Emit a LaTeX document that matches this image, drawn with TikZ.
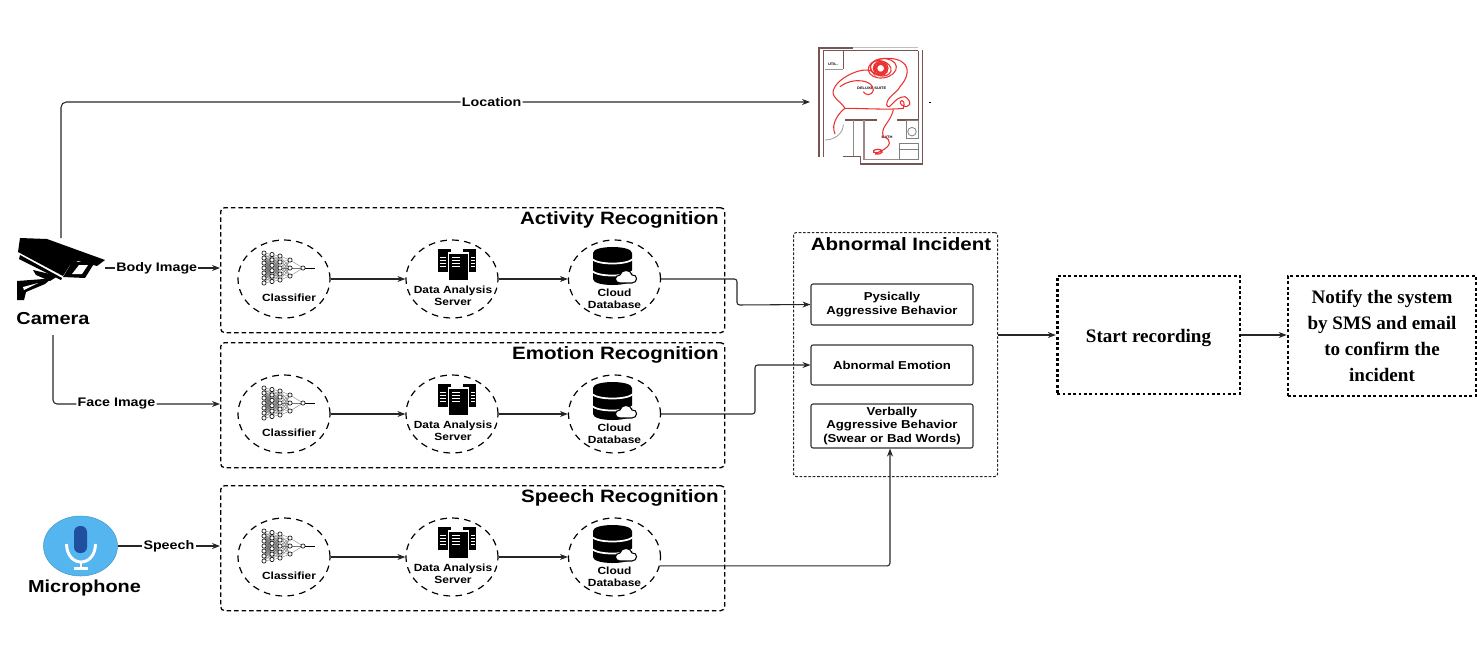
\documentclass[tikz,border=0pt]{standalone}
\usepackage{fontspec}
\setmainfont[FakeStretch=1.15]{Liberation Sans}
\newfontfamily\serifbold{Liberation Serif}
\usetikzlibrary{arrows.meta, positioning, shapes.geometric, calc}
\definecolor{wallcolor}{RGB}{120,85,85}
\definecolor{micblue}{RGB}{85,181,239}
\definecolor{micdark}{RGB}{31,79,159}
\definecolor{scribble}{RGB}{235,50,50}

\tikzset{
  flow/.style={draw=black!85, line width=.8pt, -{Stealth[length=6pt,width=4.5pt]}},
  flowlabel/.style={font=\fontsize{9.3}{10}\selectfont\bfseries, fill=white, inner sep=1pt},
  devlabel/.style={font=\fontsize{13}{15}\selectfont\bfseries, inner sep=0pt},
  recogframe/.style={draw, line width=1pt, dash pattern=on 3.4pt off 2.2pt, rounded corners=3pt, minimum width=378pt, minimum height=93.75pt, anchor=north west, inner sep=0pt},
  recogcircle/.style={draw, ellipse, line width=.9pt, dash pattern=on 5pt off 4pt, minimum width=69pt, minimum height=58.5pt, inner sep=0pt},
  recogtitle/.style={font=\fontsize{13.4}{15}\selectfont\bfseries, anchor=east, inner sep=0pt},
  circletext/.style={font=\fontsize{7.8}{9}\selectfont\bfseries, align=center, inner sep=0pt},
  incidentbox/.style={draw=black!80, line width=.8pt, rounded corners=1.5pt, minimum width=121.5pt, align=center, inner sep=0pt, font=\fontsize{8.6}{10}\selectfont\bfseries},
  actionbox/.style={draw, line width=2pt, dash pattern=on 2.2pt off 1.8pt, align=center, inner sep=0pt, font=\serifbold\fontsize{14.3}{19.5}\selectfont\bfseries},
  pics/recogrow/.style={code={
    \node[recogframe] (-frame) at (0,0) {};
    \node[recogtitle] (-title) at (499,13) {#1};
    \node[recogcircle] (-cls) at (64,72) {};
    \node[recogcircle] (-srv) at (232,72) {};
    \node[recogcircle] (-cld) at (394.5,72) {};
    \node[circletext] (-clstext) at (69,91) {Classifier};
    \node[circletext] (-srvtext) at (233,89) {Data Analysis\\Server};
    \node[circletext] (-cldtext) at (394.5,92) {Cloud\\Database};
    \draw[flow] (-cls) -- (-srv);
    \draw[flow] (-srv) -- (-cld);
    % network icon
    \foreach \cx/\n/\sp/\nx/\m/\msp in {44/7/5/52/6/5.4,52/6/5.4/60/5/6,60/5/6/70/3/8,70/3/8/83/1/0}{
      \foreach \k in {1,...,\n}{
        \foreach \j in {1,...,\m}{
          \draw[black!55, line width=.25pt] (\cx,{61+(\k-(\n+1)/2)*\sp}) -- (\nx,{61+(\j-(\m+1)/2)*\msp});
        }
      }
    }
    \foreach \cx/\n/\sp in {44/7/5,52/6/5.4,60/5/6,70/3/8,83/1/0}{
      \foreach \k in {1,...,\n}{
        \draw[black, line width=.45pt, fill=white] (\cx,{61+(\k-(\n+1)/2)*\sp}) circle (1.6pt);
      }
    }
    \draw[black, line width=.45pt] (85,61) -- (95,61);
    % server icon
    \fill[black] (218,42) rectangle (231,65);
    \fill[black] (243,42) rectangle (256,65);
    \filldraw[black, draw=white, line width=.8pt] (228.5,46) rectangle (248.5,73.5);
    \foreach \sy in {50,53,56,59}{
      \draw[white, line width=.5pt] (232,\sy) -- (240,\sy);
      \draw[white, line width=.4pt] (220,\sy) -- (226,\sy);
      \draw[white, line width=.4pt] (251,\sy) -- (255,\sy);
    }
    % database icon
    \fill[black] (373,46) .. controls (373,38) and (412,38) .. (412,46) -- (412,72) .. controls (412,80) and (373,80) .. (373,72) -- cycle;
    \draw[white, line width=1.3pt] (372,52) .. controls (378,58) and (407,58) .. (413,52);
    \draw[white, line width=1.3pt] (372,64) .. controls (378,70) and (407,70) .. (413,64);
    \filldraw[fill=white, draw=black, line width=.8pt] (400,76) .. controls (394,76) and (394,68) .. (400,68) .. controls (401,62) and (411,62) .. (412,68) .. controls (418,67) and (418,76) .. (412,76) -- cycle;
  }}
}

\begin{document}
\begin{tikzpicture}[x=.75pt, y=-.75pt]
  \useasboundingbox (0,0) rectangle (1477,647);

  % camera
  \coordinate (camtop) at (61,238);
  \fill[black] (20,238) -- (47,239) -- (105,260) -- (97,266) -- (78,261) -- (70,265) -- (63,276) -- (18,252) -- cycle;
  \fill[black] (20,255) -- (62,278) -- (61,280) -- (19,259) -- cycle;
  \fill[black] (63,277) -- (72,262) -- (95,262) -- (85,278) -- cycle;
  \fill[white] (72,274) -- (79,265) -- (88,265) -- (82,274) -- cycle;
  \fill[black] (33,270) -- (58,276) -- (50,281) -- (36,275) -- cycle;
  \fill[black] (17,281) -- (44,279) -- (52,278) -- (45,284) -- (26,292) -- (24,300) -- (17,300) -- cycle;
  \fill[white] (23,287) -- (38,283) -- (24,290) -- cycle;
  \node[devlabel] (cameralabel) at (53,319) {Camera};
  \coordinate (cambody) at (105,268);
  \coordinate (camlow) at (53,335);

  % microphone
  \node[draw=micblue!85!black, line width=.4pt, fill=micblue, ellipse, minimum width=55.5pt, minimum height=45pt, inner sep=0pt] (mic) at (80.5,546) {};
  \fill[micdark, rounded corners=4.5pt] (74,526) rectangle (87,553);
  \draw[white, line width=2.2pt] (66.5,544) .. controls (67,568) and (95,568) .. (95.5,544);
  \draw[white, line width=2pt] (81,561) -- (81,568);
  \draw[white, line width=1.6pt] (74,568.5) -- (88,568.5);
  \node[devlabel] (miclabel) at (84.5,588) {Microphone};

  % recognition rows
  \pic (act) at (220,207) {recogrow={Activity Recognition}};
  \pic (emo) at (220,342) {recogrow={Emotion Recognition}};
  \pic (spc) at (220,485) {recogrow={Speech Recognition}};

  % incident panel
  \node[draw=black!85, line width=.8pt, dash pattern=on 2pt off 1.3pt, rounded corners=2pt, minimum width=153pt, minimum height=183pt, anchor=north west, inner sep=0pt] (incident) at (793,232) {};
  \node[font=\fontsize{13.4}{15}\selectfont\bfseries, inner sep=0pt] (incidenttitle) at (901,244) {Abnormal Incident};
  \node[incidentbox, minimum height=30.75pt] (physical) at (892,304.5) {Pysically\\Aggressive Behavior};
  \node[incidentbox, minimum height=30pt] (abemotion) at (892,365) {Abnormal Emotion};
  \node[incidentbox, minimum height=33pt] (verbal) at (892,426) {Verbally\\Aggressive Behavior\\(Swear or Bad Words)};

  % actions
  \node[actionbox, minimum width=137pt, minimum height=88.5pt] (start) at (1148.5,335) {\raisebox{-2pt}[\height][\depth]{Start recording}};
  \node[actionbox, minimum width=141pt, minimum height=90pt] (notify) at (1382,336) {Notify the system\\by SMS and email\\to confirm the\\incident};

  % floor plan
  \begin{scope}[shift={(790,30)}, x=.25pt, y=-.25pt]
    \draw[wallcolor, line width=1.4pt] (87,380) -- (87,53) -- (190,53);
    \draw[wallcolor, line width=.9pt] (100,380) -- (100,62) -- (160,62) -- (160,118);
    \draw[black!25, line width=.8pt] (190,53) -- (385,53);
    \draw[wallcolor, line width=1pt] (160,62) -- (385,62);
    \draw[wallcolor, line width=1.1pt] (385,62) -- (385,270);
    \draw[wallcolor, line width=1.2pt] (397,60) -- (397,402) -- (212,402) -- (212,380) -- (160,380);
    \draw[wallcolor, line width=1.5pt] (165,270) -- (260,270);
    \draw[wallcolor, line width=1.1pt] (322,270) -- (385,270);
    \draw[black!45, line width=.8pt] (190,270) -- (190,378);
    \draw[wallcolor!70, line width=.8pt] (222,270) -- (222,388) -- (385,388);
    \draw[black!40, line width=.6pt] (105,118) -- (160,118);
    \draw[black!40, line width=.6pt] (105,330) arc (90:0:55 and 47);
    \draw[black!50, line width=.6pt] (348,272) rectangle (385,325);
    \draw[black!50, line width=.6pt] (366,305) circle (3.2pt);
    \draw[black!50, line width=.6pt] (328,340) rectangle (385,388);
    \draw[black!50, line width=.5pt] (328,358) -- (385,358);
    \node[font=\fontsize{2.6}{3}\selectfont\bfseries, inner sep=0pt] (utl) at (129,103) {UTIL.};
    \node[font=\fontsize{2.6}{3}\selectfont\bfseries, inner sep=0pt] (suite) at (245,176) {DELUXE SUITE};
    \node[font=\fontsize{2.6}{3}\selectfont\bfseries, inner sep=0pt] (bath) at (291,323) {BATH};
    \draw[scribble, line width=.8pt] (135,312) .. controls (120,280) and (150,245) .. (165,235) .. controls (150,210) and (115,200) .. (135,170) .. controls (160,130) and (240,105) .. (250,130) .. controls (225,100) and (260,82) .. (300,85) .. controls (360,90) and (365,130) .. (330,170) .. controls (320,190) and (290,200) .. (290,225) .. controls (300,245) and (310,200) .. (345,200) .. controls (370,215) and (360,240) .. (335,225) .. controls (320,210) and (350,200) .. (340,235) .. controls (300,240) and (220,235) .. (165,235);
    \draw[scribble, line width=.8pt] (150,170) .. controls (190,140) and (250,150) .. (250,180) .. controls (245,200) and (225,195) .. (220,185);
    \draw[scribble, line width=.8pt] (310,240) .. controls (300,280) and (270,290) .. (280,320) .. controls (310,330) and (300,350) .. (275,362);
    \draw[scribble, line width=.9pt] (275,362) .. controls (250,378) and (240,360) .. (262,358) .. controls (285,358) and (280,375) .. (255,372);
    \foreach \a in {0,30,...,150}{
      \draw[scribble, line width=.9pt, rotate around={\a:(272,115)}] (272,115) ellipse (5.5pt and 3pt);
    }
    \draw[scribble, line width=.8pt, rotate around={8:(277,115)}] (277,115) ellipse (10.6pt and 7.2pt);
    \draw[scribble, line width=.8pt, rotate around={-15:(272,115)}] (272,115) ellipse (8pt and 5.6pt);
    \draw[black, line width=.7pt] (416,217) -- (422,217);
  \end{scope}

  % connectors
  \coordinate (locationend) at (810,102);
  \draw[flow, rounded corners=4pt] (camtop) -- (61,102) -- node[flowlabel, pos=.575] (locationlabel) {Location} (locationend);
  \draw[flow] (cambody) -- node[flowlabel, pos=.45] (bodylabel) {Body Image} (act-frame.west |- cambody);
  \draw[flow, rounded corners=3pt] (camlow) -- (53,404) -- node[flowlabel, pos=.38] (facelabel) {Face Image} (emo-frame.west |- 53,404);
  \draw[flow] (mic.east) -- node[flowlabel] (speechlabel) {Speech} (spc-frame.west |- mic.east);
  \draw[flow, rounded corners=2pt] (act-cld.east) -- (737,279) -- (737,305) -- (physical.west);
  \draw[flow, rounded corners=2pt] (emo-cld.east) -- (755,414) -- (755,365) -- (abemotion.west);
  \draw[flow, rounded corners=2pt] (spc-cld.-11) -| (verbal.south -| 890,565);
  \draw[flow] (incident.east |- start.west) -- (start.west);
  \draw[flow] (start.east) -- (notify.west |- start.east);
\end{tikzpicture}
\end{document}
